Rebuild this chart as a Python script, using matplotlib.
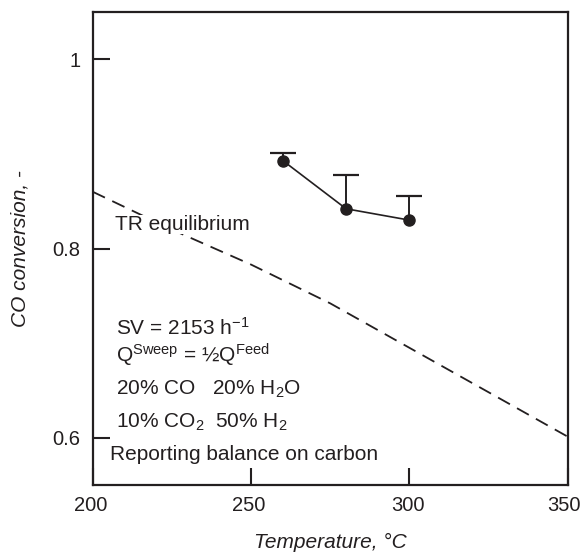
import matplotlib
matplotlib.use("Agg")
import matplotlib.pyplot as plt
from matplotlib.transforms import ScaledTranslation

plt.rcParams["font.family"] = ["Liberation Sans", "DejaVu Sans"]
plt.rcParams["mathtext.fontset"] = "custom"
plt.rcParams["mathtext.rm"] = "Liberation Sans"
plt.rcParams["mathtext.it"] = "Liberation Sans:italic"

# measured conversion and upper error
temp = [260, 280, 300]
conversion = [0.893, 0.842, 0.830]
err_upper = [0.008, 0.036, 0.026]

# thermodynamic equilibrium (TR)
eq_temp = [200, 225, 250, 275, 300, 325, 350]
eq_conv = [0.860, 0.820, 0.783, 0.742, 0.695, 0.648, 0.601]

xticks = [200, 250, 300, 350]
yticks = [0.6, 0.8, 1.0]
ytick_labels = ["0.6", "0.8", "1"]

notes = [
    r"SV = 2153 h$^{\mathregular{-1}}$",
    r"Q$^{\mathregular{Sweep}}$ = ½Q$^{\mathregular{Feed}}$",
    r"20% CO   20% H$_{\mathregular{2}}$O",
    r"10% CO$_{\mathregular{2}}$  50% H$_{\mathregular{2}}$",
]
note_y = [0.709, 0.6794, 0.6455, 0.6106]

ink = "#231f20"

fig = plt.figure(figsize=(5.83, 5.52), dpi=100)
ax = fig.add_axes([0.159, 0.1214, 0.815, 0.8568])

ax.plot(eq_temp, eq_conv, color=ink, lw=1.3, dashes=(7.5, 4.5), zorder=1)

# upper error bars only
tops = [c + e for c, e in zip(conversion, err_upper)]
ax.errorbar(temp, conversion, yerr=[[0] * len(temp), err_upper], fmt="none",
            ecolor=ink, elinewidth=1.4, capsize=0)
ax.plot(temp, tops, ls="none", marker="_", ms=19, mew=1.6, color=ink)
ax.plot(temp, conversion, color=ink, marker="o", ms=8, lw=1.2)

ax.text(207, 0.820, "TR equilibrium", fontsize=15, va="baseline", color=ink, zorder=3,
        bbox=dict(facecolor="white", edgecolor="none", pad=0))
for y, s in zip(note_y, notes):
    ax.text(207.5, y, s, fontsize=15, va="baseline", color=ink)
ax.text(205.5, 0.5767, "Reporting balance on carbon", fontsize=15, va="baseline", color=ink)

ax.set_xlim(200, 350)
ax.set_ylim(0.55, 1.05)
ax.set_xticks(xticks)
ax.set_yticks(yticks)
ax.set_yticklabels(ytick_labels)
ax.tick_params(direction="in", length=12, width=1.5, labelsize=14.5, colors=ink)
ax.tick_params(axis="x", pad=8)
ax.tick_params(axis="y", pad=9)
for sp in ax.spines.values():
    sp.set_linewidth(1.6)
    sp.set_color(ink)

# nudge the x tick labels a little left, as in the original
for i, lab in enumerate(ax.get_xticklabels()):
    dx = -4 if i == len(xticks) - 1 else -2
    lab.set_transform(lab.get_transform() + ScaledTranslation(dx / 100, 0, fig.dpi_scale_trans))

ax.set_xlabel("Temperature, °C", fontsize=15, style="italic", labelpad=13, color=ink)
ax.set_ylabel("CO conversion, -", fontsize=15, style="italic", labelpad=16, color=ink)

fig.savefig("out.png", dpi=100)
